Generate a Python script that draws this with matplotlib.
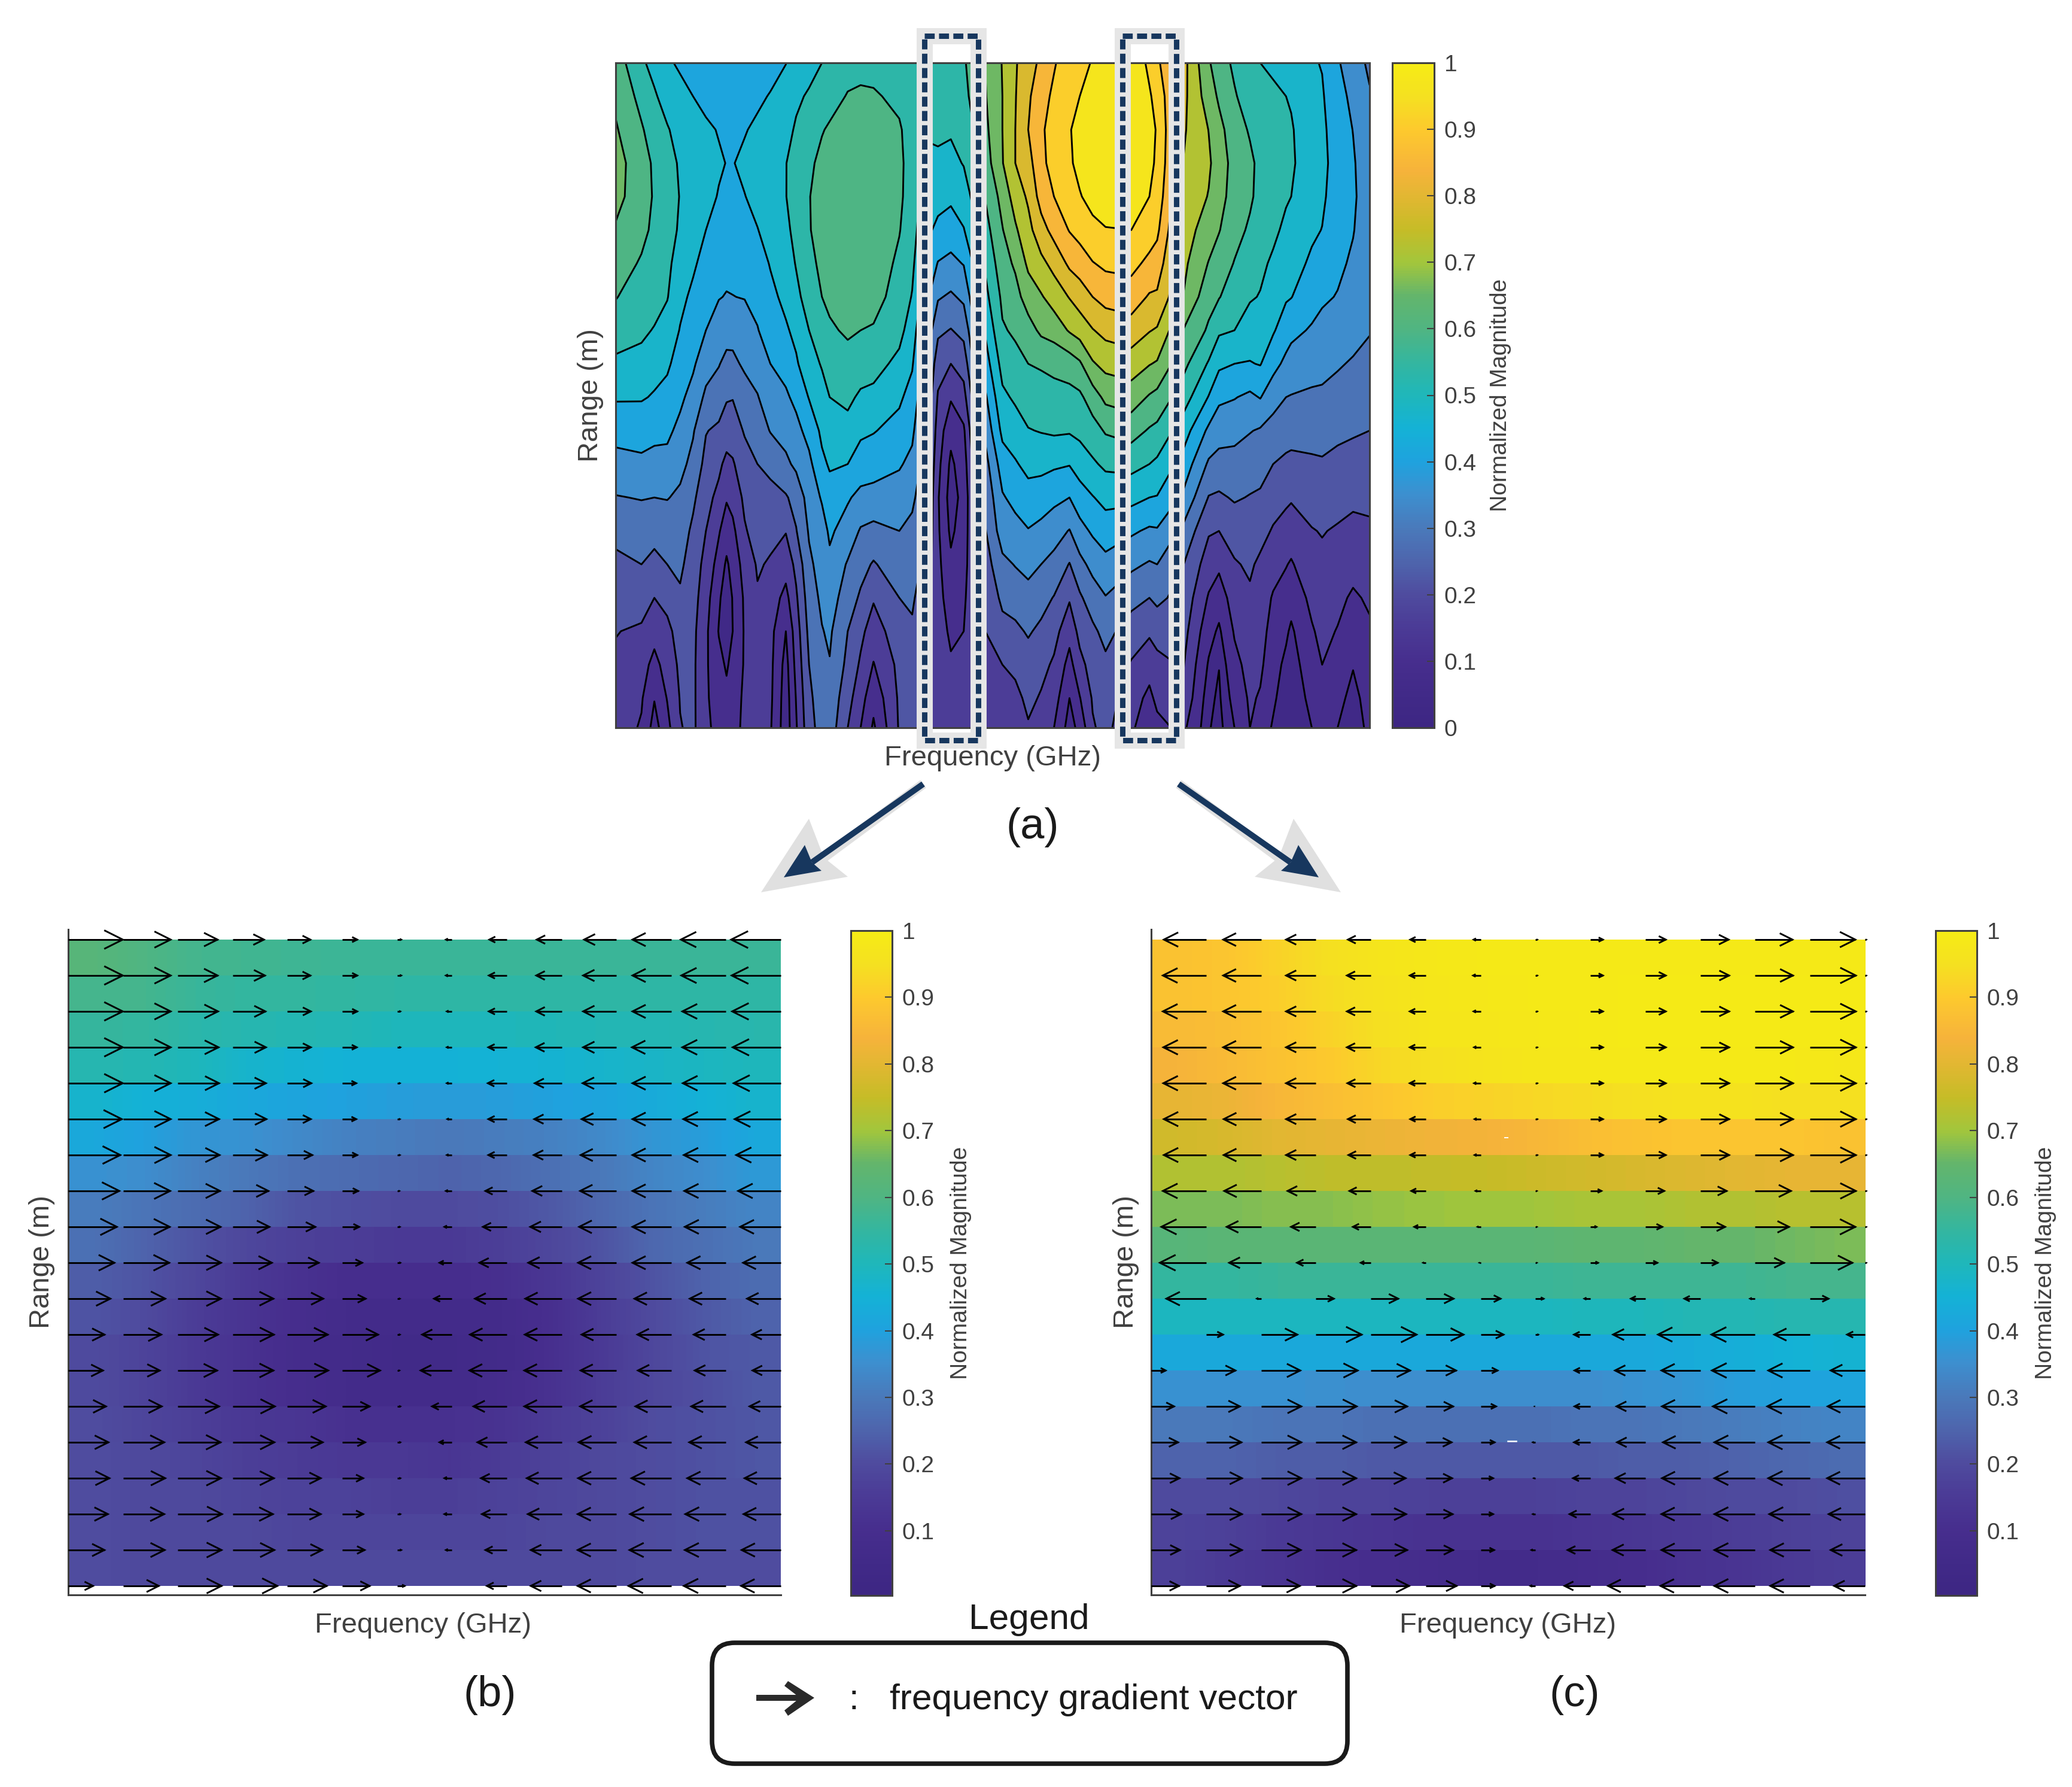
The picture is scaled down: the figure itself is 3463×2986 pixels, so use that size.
# -*- coding: utf-8 -*-
import numpy as np
import matplotlib
matplotlib.use('Agg')
import matplotlib.pyplot as plt
from matplotlib.collections import LineCollection
from matplotlib.colors import LinearSegmentedColormap, Normalize
from matplotlib.cm import ScalarMappable
from matplotlib.patches import FancyBboxPatch, Rectangle, Polygon

plt.rcParams['font.family'] = ['Liberation Sans', 'DejaVu Sans']

W, H = 3463, 2986

# ============================================================
# data: panel (a), magnitude in 1/16 steps, one list per frequency column
# ============================================================
freq_a = [35, 85, 110, 135, 160, 185, 210, 235, 250, 262, 285, 310, 335, 365, 385, 410, 435, 450,
          485, 510, 535, 585, 610, 635, 660, 685, 710, 735, 785, 810, 835, 860, 885, 915, 935, 960,
          985, 1035, 1070, 1085, 1135, 1185, 1205, 1235, 1265, 1285, 1310, 1335, 1345, 1385, 1405,
          1435, 1465, 1497]
range_a = [95, 165, 235, 305, 375, 445, 515, 585, 655, 725, 795, 865, 935, 1005, 1075, 1145,
           1215, 1285, 1355, 1425, 1487]
mag_a = [
    [9.5, 9.8, 10.1, 10.4, 10.3, 9.9, 9.45, 9.05, 8.5, 7.8, 7.1, 6.35, 5.65, 4.95, 4.3, 3.75, 3.4, 3.05, 2.8, 2.6, 2.5],
    [8.2, 8.7, 9.1, 9.4, 9.45, 9.25, 8.9, 8.5, 8.15, 7.75, 7.1, 6.3, 5.85, 5.05, 4.45, 4.0, 3.6, 2.8, 2.4, 2.1, 1.9],
    [7.6, 8.15, 8.55, 8.85, 8.9, 8.8, 8.6, 8.3, 7.95, 7.4, 6.9, 6.25, 5.7, 5.0, 4.35, 3.7, 3.0, 2.35, 1.7, 1.05, 0.6],
    [7.1, 7.5, 8.1, 8.3, 8.35, 8.3, 8.2, 8.05, 7.6, 7.15, 6.7, 6.2, 5.7, 5.05, 4.4, 4.0, 3.3, 2.75, 2.4, 2.05, 1.7],
    [6.9, 7.2, 7.55, 7.9, 7.97, 7.9, 7.6, 7.25, 6.95, 6.6, 6.2, 5.75, 5.3, 4.8, 4.5, 4.2, 3.85, 3.4, 3.2, 3.05, 2.95],
    [6.6, 7.0, 7.3, 7.55, 7.6, 7.5, 7.15, 6.8, 6.5, 6.15, 5.65, 5.1, 4.7, 4.2, 3.8, 3.5, 3.4, 3.25, 3.2, 3.2, 3.2],
    [6.4, 6.75, 7.15, 7.4, 7.25, 7.0, 6.65, 6.3, 6.0, 5.4, 4.8, 4.05, 3.7, 3.3, 3.0, 2.7, 2.4, 2.2, 2.15, 2.15, 2.2],
    [6.3, 6.55, 6.95, 7.1, 6.95, 6.7, 6.4, 6.05, 5.5, 5.05, 4.55, 3.8, 3.2, 2.75, 2.1, 1.6, 1.15, 0.95, 1.25, 1.5, 1.7],
    [6.3, 6.45, 6.8, 6.98, 6.85, 6.55, 6.25, 5.95, 5.35, 4.75, 4.1, 3.45, 2.75, 2.1, 1.45, 0.85, 0.5, 0.5, 0.9, 1.2, 1.4],
    [6.35, 6.5, 6.8, 6.97, 6.85, 6.55, 6.3, 5.98, 5.3, 4.8, 4.05, 3.45, 2.9, 2.35, 1.75, 1.35, 1.05, 1.0, 1.25, 1.6, 1.75],
    [6.5, 6.7, 6.95, 7.15, 6.98, 6.7, 6.5, 6.05, 5.4, 5.15, 4.6, 4.1, 3.55, 3.2, 2.9, 2.4, 2.15, 2.1, 2.1, 2.15, 2.15],
    [6.6, 6.85, 7.15, 7.35, 7.2, 6.98, 6.65, 6.3, 5.95, 5.4, 4.95, 4.45, 4.0, 3.7, 3.4, 3.1, 2.9, 2.65, 2.5, 2.4, 2.35],
    [6.7, 7.05, 7.3, 7.5, 7.45, 7.25, 7.05, 6.8, 6.5, 6.0, 5.5, 5.05, 4.25, 3.7, 3.25, 2.9, 2.5, 2.3, 2.25, 2.2, 2.1],
    [6.98, 7.4, 7.75, 7.98, 7.98, 7.85, 7.6, 7.2, 6.9, 6.35, 5.85, 5.35, 4.8, 3.9, 3.05, 2.4, 1.7, 1.0, 0.65, 0.5, 0.45],
    [7.45, 7.85, 8.1, 8.3, 8.35, 8.2, 8.05, 7.8, 7.2, 6.9, 6.25, 5.7, 5.2, 4.35, 3.95, 3.25, 2.85, 2.5, 2.3, 2.05, 1.9],
    [7.7, 8.1, 8.5, 8.85, 8.97, 8.95, 8.75, 8.35, 8.0, 7.5, 7.05, 6.35, 5.75, 5.4, 5.1, 4.8, 4.5, 4.25, 4.0, 3.8, 3.65],
    [8.0, 8.6, 8.95, 9.2, 9.3, 9.3, 9.2, 9.0, 8.5, 8.1, 7.55, 7.2, 6.8, 6.1, 5.6, 5.4, 5.2, 4.95, 4.7, 4.5, 4.4],
    [8.2, 8.7, 9.1, 9.45, 9.55, 9.5, 9.35, 9.15, 8.9, 8.45, 8.0, 7.6, 7.1, 6.65, 6.15, 5.8, 5.45, 5.15, 4.95, 4.7, 4.55],
    [8.7, 9.05, 9.4, 9.7, 9.95, 9.9, 9.7, 9.45, 9.1, 8.75, 8.2, 7.7, 7.0, 6.1, 5.6, 4.9, 4.5, 4.0, 3.75, 3.35, 3.0],
    [8.7, 9.15, 9.5, 9.75, 9.92, 9.9, 9.65, 9.35, 9.0, 8.45, 7.85, 7.2, 6.5, 5.75, 4.9, 4.35, 3.85, 3.25, 2.85, 2.4, 2.0],
    [8.7, 9.1, 9.45, 9.65, 9.8, 9.75, 9.6, 9.4, 8.9, 8.35, 7.75, 7.05, 6.5, 5.6, 4.75, 3.9, 3.1, 2.5, 1.95, 1.3, 0.85],
    [8.3, 8.8, 9.1, 9.2, 9.2, 9.05, 8.8, 8.55, 8.3, 7.75, 7.15, 6.7, 6.1, 5.55, 5.0, 4.6, 4.0, 3.6, 3.25, 3.15, 3.1],
    [8.25, 8.45, 8.6, 8.6, 8.5, 8.4, 8.2, 7.95, 7.5, 7.1, 6.65, 6.2, 5.75, 5.2, 4.75, 4.4, 4.1, 3.9, 3.6, 3.4, 3.3],
    [8.2, 8.2, 8.05, 7.9, 7.6, 7.3, 6.9, 6.4, 5.9, 5.5, 5.15, 4.85, 4.6, 4.35, 4.1, 3.8, 3.6, 3.5, 3.3, 3.1, 3.0],
    [8.35, 8.2, 8.1, 7.9, 7.35, 6.75, 5.95, 5.1, 4.2, 3.4, 2.9, 2.55, 2.3, 2.1, 2.15, 2.25, 2.35, 2.4, 2.5, 2.55, 2.6],
    [8.45, 8.25, 8.1, 7.75, 7.2, 6.5, 5.75, 4.85, 3.95, 3.0, 2.1, 1.3, 0.8, 0.55, 0.8, 1.2, 1.5, 1.85, 2.1, 2.2, 2.3],
    [8.9, 8.75, 8.4, 8.05, 7.55, 6.95, 6.05, 5.2, 4.3, 3.4, 2.65, 1.85, 1.55, 1.35, 1.5, 1.65, 1.85, 2.0, 2.35, 2.45, 2.5],
    [9.5, 9.4, 9.15, 8.8, 8.4, 7.95, 7.4, 6.95, 6.2, 5.6, 4.85, 4.25, 3.7, 3.4, 3.15, 2.95, 2.8, 2.65, 2.55, 2.5, 2.45],
    [11.05, 11.0, 11.0, 10.95, 10.35, 9.95, 9.6, 9.2, 8.9, 8.35, 7.8, 7.25, 6.5, 5.9, 5.5, 4.75, 4.2, 3.7, 3.0, 2.7, 2.45],
    [11.9, 11.95, 12.0, 12.0, 11.45, 10.85, 10.15, 9.65, 9.15, 8.7, 8.15, 7.55, 6.9, 6.3, 5.65, 5.05, 4.4, 3.8, 3.25, 2.7, 2.4],
    [12.6, 12.85, 13.0, 12.6, 12.15, 11.7, 11.2, 10.45, 9.6, 9.0, 8.5, 7.95, 7.3, 6.6, 5.95, 5.25, 4.7, 4.1, 3.6, 3.25, 2.9],
    [13.2, 13.6, 13.85, 13.8, 13.4, 12.6, 11.75, 10.9, 10.2, 9.1, 8.6, 8.05, 7.3, 6.45, 5.75, 5.0, 4.35, 3.8, 3.3, 2.9, 2.55],
    [13.9, 14.2, 14.4, 14.3, 14.0, 13.35, 12.3, 11.45, 10.4, 9.3, 8.6, 8.15, 7.15, 6.25, 5.4, 4.7, 3.95, 3.35, 2.85, 2.45, 2.0],
    [14.6, 14.8, 14.95, 14.9, 14.6, 14.05, 13.2, 12.05, 11.1, 9.45, 8.7, 8.1, 7.05, 6.0, 4.95, 3.95, 3.1, 2.35, 1.65, 1.0, 0.6],
    [14.55, 15.0, 15.25, 15.2, 14.95, 14.35, 13.5, 12.45, 11.45, 9.85, 8.8, 8.25, 7.45, 6.55, 5.65, 4.7, 3.85, 3.3, 2.7, 1.95, 1.3],
    [15.1, 15.45, 15.6, 15.55, 15.25, 14.8, 13.95, 13.0, 11.95, 10.9, 9.5, 8.6, 7.85, 6.95, 6.15, 5.3, 4.5, 3.8, 3.4, 3.1, 2.9],
    [15.6, 15.8, 15.9, 15.8, 15.5, 14.95, 14.2, 13.35, 12.3, 11.3, 10.25, 9.1, 8.2, 7.3, 6.5, 5.7, 4.95, 4.3, 3.8, 3.5, 3.3],
    [15.7, 15.85, 15.95, 15.8, 15.55, 15.0, 14.3, 13.5, 12.55, 11.5, 10.5, 9.4, 8.3, 7.3, 6.15, 5.2, 4.3, 3.55, 2.9, 2.45, 2.15],
    [14.8, 15.1, 15.2, 15.15, 15.0, 14.5, 13.75, 12.9, 12.05, 11.05, 9.9, 8.9, 8.0, 7.0, 5.85, 4.9, 4.0, 3.15, 2.4, 1.75, 1.4],
    [14.2, 14.7, 14.95, 14.9, 14.65, 14.2, 13.55, 12.85, 11.9, 10.9, 9.7, 8.75, 7.8, 6.95, 5.9, 5.0, 4.2, 3.45, 2.65, 2.25, 1.7],
    [12.4, 12.3, 12.15, 12.0, 11.75, 11.5, 11.25, 11.0, 10.0, 9.3, 8.5, 7.5, 6.65, 5.85, 4.8, 4.05, 3.7, 3.4, 3.1, 2.85, 2.25],
    [10.1, 10.5, 10.98, 11.15, 10.95, 10.5, 9.95, 9.35, 8.85, 7.9, 6.95, 5.8, 4.85, 3.95, 3.1, 2.5, 1.9, 1.35, 0.9, 0.55, 0.45],
    [9.5, 9.85, 10.3, 10.5, 10.35, 10.05, 9.55, 9.05, 8.15, 7.2, 6.2, 5.4, 4.65, 3.85, 3.0, 2.2, 1.45, 0.85, 0.42, 0.3, 0.2],
    [8.8, 9.1, 9.45, 9.65, 9.6, 9.35, 8.95, 8.5, 8.0, 7.0, 6.05, 5.3, 4.65, 4.1, 3.45, 2.9, 2.5, 2.1, 1.7, 1.3, 1.0],
    [8.1, 8.5, 8.9, 9.2, 9.15, 8.85, 8.45, 8.1, 7.5, 6.95, 5.8, 5.05, 4.45, 3.95, 3.55, 3.15, 2.85, 2.55, 2.35, 2.15, 2.0],
    [8.0, 8.3, 8.55, 8.75, 8.7, 8.45, 8.2, 7.95, 7.45, 7.05, 6.05, 4.9, 4.4, 3.85, 3.35, 2.8, 2.55, 2.4, 2.2, 1.9, 1.5],
    [7.8, 8.2, 8.4, 8.55, 8.45, 8.2, 7.85, 7.45, 7.1, 6.35, 5.35, 4.65, 4.0, 3.45, 2.9, 2.4, 1.9, 1.6, 1.35, 1.15, 0.9],
    [7.6, 8.0, 8.2, 8.3, 8.1, 7.8, 7.45, 7.1, 6.5, 5.75, 5.0, 4.4, 3.8, 3.2, 2.6, 2.05, 1.6, 1.15, 0.8, 0.55, 0.5],
    [7.55, 7.9, 8.1, 8.15, 8.0, 7.7, 7.35, 7.03, 6.25, 5.6, 4.95, 4.35, 3.75, 3.1, 2.5, 1.9, 1.35, 0.85, 0.6, 0.45, 0.42],
    [7.1, 7.2, 7.3, 7.4, 7.3, 7.15, 6.85, 6.4, 5.9, 5.35, 4.85, 4.35, 3.85, 3.4, 2.95, 2.65, 2.25, 1.9, 1.55, 1.25, 1.0],
    [6.95, 7.1, 7.2, 7.25, 7.15, 6.98, 6.6, 6.15, 5.7, 5.25, 4.85, 4.35, 3.9, 3.45, 3.05, 2.8, 2.5, 2.25, 2.0, 1.6, 1.3],
    [6.1, 6.3, 6.5, 6.6, 6.55, 6.4, 6.2, 5.95, 5.6, 5.1, 4.65, 4.2, 3.75, 3.35, 2.9, 2.55, 2.25, 1.95, 1.6, 1.25, 1.0],
    [5.5, 5.8, 5.98, 6.1, 6.15, 6.05, 5.85, 5.6, 5.35, 4.9, 4.55, 4.1, 3.65, 3.15, 2.8, 2.35, 1.85, 1.4, 1.05, 0.75, 0.6],
    [4.8, 5.1, 5.3, 5.4, 5.45, 5.4, 5.3, 5.15, 5.05, 4.75, 4.4, 4.0, 3.6, 3.2, 2.85, 2.5, 2.15, 1.85, 1.6, 1.35, 1.2],
]

# ============================================================
# data: panels (b) and (c), cell colours and frequency gradient
# ============================================================
mag_b = [
    [.62, .60, .58, .575, .57, .565, .56, .56, .56, .56, .56, .56, .56, .56],
    [.58, .58, .56, .55, .55, .545, .54, .54, .54, .54, .54, .54, .54, .54],
    [.555, .55, .53, .52, .515, .51, .50, .50, .50, .505, .51, .51, .52, .525],
    [.52, .515, .50, .47, .46, .45, .45, .45, .455, .46, .47, .48, .49, .50],
    [.47, .45, .44, .42, .41, .40, .39, .385, .39, .40, .41, .43, .45, .47],
    [.42, .40, .37, .36, .34, .32, .31, .30, .31, .32, .34, .37, .39, .42],
    [.36, .35, .32, .30, .28, .27, .26, .25, .26, .28, .30, .33, .35, .38],
    [.31, .29, .27, .25, .22, .21, .20, .20, .21, .23, .26, .29, .31, .33],
    [.28, .25, .22, .19, .17, .16, .15, .15, .165, .19, .22, .26, .28, .30],
    [.24, .22, .19, .15, .12, .10, .10, .10, .11, .14, .18, .22, .25, .27],
    [.22, .20, .16, .13, .10, .08, .07, .07, .08, .11, .16, .20, .23, .25],
    [.20, .18, .15, .12, .09, .07, .06, .06, .07, .11, .15, .19, .22, .23],
    [.20, .18, .15, .12, .10, .08, .07, .07, .09, .12, .16, .19, .21, .23],
    [.205, .185, .165, .145, .135, .115, .115, .115, .125, .155, .175, .205, .215, .225],
    [.205, .195, .185, .165, .155, .145, .145, .135, .155, .175, .195, .205, .215, .225],
    [.205, .195, .195, .185, .175, .175, .165, .165, .175, .185, .195, .205, .215, .215],
    [.205, .195, .195, .195, .185, .185, .185, .185, .185, .195, .195, .205, .215, .215],
    [.205, .195, .195, .195, .195, .195, .195, .195, .195, .195, .195, .205, .205, .205],
]
grad_b = [
    [110, 96, 80, 63, 46, 30, 8, -12, -35, -50, -65, -78, -91, -100],
    [110, 96, 80, 65, 46, 30, 8, -12, -36, -51, -67, -78, -90, -99],
    [110, 96, 81, 66, 47, 30, 6, -10, -36, -51, -67, -78, -88, -98],
    [110, 96, 82, 67, 47, 29, 6, -10, -37, -52, -67, -79, -88, -97],
    [110, 96, 83, 67, 48, 28, 5, -10, -38, -54, -68, -78, -87, -95],
    [108, 96, 83, 68, 47, 28, 5, -9, -37, -55, -70, -78, -86, -93],
    [105, 96, 84, 69, 50, 30, 5, -10, -37, -56, -72, -78, -85, -90],
    [103, 95, 85, 72, 52, 32, 4, -12, -43, -59, -73, -78, -84, -86],
    [98, 94, 86, 74, 56, 34, 5, -15, -48, -63, -75, -78, -83, -82],
    [93, 93, 87, 79, 63, 40, 6, -25, -55, -67, -77, -78, -78, -76],
    [85, 85, 87, 82, 72, 47, 5, -36, -64, -73, -77, -74, -73, -68],
    [73, 77, 81, 83, 81, 72, 5, -60, -74, -74, -70, -68, -65, -58],
    [70, 74, 79, 82, 82, 76, 4, -63, -75, -75, -72, -67, -63, -57],
    [76, 78, 83, 85, 77, 55, 6, -40, -67, -75, -73, -72, -70, -63],
    [81, 83, 86, 84, 71, 46, 6, -25, -59, -72, -76, -74, -74, -70],
    [83, 85, 87, 83, 67, 42, 6, -15, -52, -70, -77, -80, -78, -73],
    [80, 83, 89, 81, 67, 42, 6, -15, -50, -68, -78, -83, -82, -75],
    [73, 84, 88, 84, 70, 45, 8, -12, -43, -62, -78, -84, -83, -79],
    [50, 72, 88, 90, 79, 55, 15, 0, -40, -62, -78, -86, -85, -80],
]
mag_c = [
    [.88, .89, .92, .95, .97, .98, .985, .985, .985, .985, .985, .985, .985, .985],
    [.88, .89, .91, .94, .96, .975, .98, .985, .985, .99, .99, .99, .99, .99],
    [.86, .87, .89, .92, .95, .97, .975, .98, .985, .99, .99, .99, .99, .99],
    [.84, .86, .88, .90, .93, .95, .965, .975, .98, .985, .985, .985, .985, .98],
    [.81, .82, .85, .87, .89, .91, .92, .93, .94, .95, .96, .96, .95, .95],
    [.77, .78, .80, .81, .82, .83, .835, .85, .87, .88, .89, .89, .89, .88],
    [.72, .72, .73, .74, .74, .745, .75, .76, .77, .78, .79, .80, .81, .81],
    [.67, .67, .68, .68, .69, .695, .70, .70, .71, .71, .72, .72, .73, .73],
    [.62, .63, .63, .63, .63, .63, .63, .63, .64, .64, .65, .65, .66, .67],
    [.55, .55, .56, .56, .56, .56, .56, .56, .57, .57, .57, .57, .58, .58],
    [.49, .49, .49, .49, .49, .49, .49, .49, .50, .50, .51, .51, .52, .52],
    [.42, .42, .42, .42, .42, .42, .42, .42, .42, .42, .43, .44, .45, .46],
    [.36, .36, .36, .355, .35, .35, .35, .35, .35, .36, .37, .39, .40, .41],
    [.30, .30, .29, .29, .28, .28, .28, .28, .29, .29, .30, .31, .32, .33],
    [.25, .25, .24, .24, .23, .23, .23, .23, .23, .24, .24, .25, .26, .27],
    [.20, .20, .19, .18, .18, .17, .17, .17, .18, .18, .19, .20, .20, .21],
    [.18, .17, .15, .14, .13, .12, .12, .12, .13, .14, .15, .16, .17, .18],
    [.17, .15, .13, .11, .10, .09, .08, .08, .09, .10, .12, .13, .15, .16],
]
grad_c = [
    [0, -85, -76, -60, -46, -31, -14, 3, 25, 41, 57, 75, 91, 2],
    [0, -87, -76, -60, -48, -32, -15, 3, 25, 41, 58, 76, 92, 2],
    [0, -87, -76, -60, -48, -32, -14, 3, 25, 41, 58, 76, 92, 2],
    [0, -86, -76, -60, -48, -32, -13, 3, 25, 41, 58, 76, 92, 2],
    [0, -86, -76, -60, -47, -32, -13, 3, 25, 41, 58, 76, 92, 2],
    [0, -85, -75, -60, -46, -31, -12, 3, 25, 41, 58, 76, 92, 2],
    [0, -85, -75, -60, -45, -31, -12, 3, 25, 41, 58, 76, 92, 2],
    [0, -87, -74, -57, -43, -29, -10, 2, 22, 38, 53, 72, 92, 2],
    [0, -90, -69, -50, -36, -23, -6, 2, 12, 34, 50, 68, 91, 2],
    [0, -93, -64, -38, -20, -5, -2, 2, 15, 24, 35, 58, 85, 2],
    [0, -80, -8, 36, 55, 56, 40, 16, -12, -29, -32, -10, 37, 0],
    [0, 34, 73, 92, 92, 76, 46, 5, -33, -65, -85, -88, -72, -36],
    [29, 59, 79, 84, 79, 61, 34, 0, -32, -61, -78, -87, -84, -69],
    [46, 68, 81, 82, 73, 55, 31, -1, -32, -58, -77, -85, -86, -75],
    [54, 71, 81, 81, 71, 52, 28, -5, -33, -57, -75, -82, -84, -76],
    [57, 72, 81, 81, 70, 53, 25, -3, -35, -60, -77, -82, -84, -76],
    [60, 72, 81, 81, 71, 54, 25, -5, -42, -65, -78, -82, -82, -73],
    [58, 72, 80, 81, 73, 55, 27, -8, -46, -66, -78, -82, -80, -69],
    [56, 68, 78, 81, 77, 62, 28, -10, -52, -75, -80, -82, -80, -62],
]
cbar_ticks_a = [0, .1, .2, .3, .4, .5, .6, .7, .8, .9, 1]
cbar_labels_a = ['0', '0.1', '0.2', '0.3', '0.4', '0.5', '0.6', '0.7', '0.8', '0.9', '1']
cbar_ticks_bc = cbar_ticks_a[1:]
cbar_labels_bc = cbar_labels_a[1:]

# ============================================================
# colours (parula as it looks in the print)
# ============================================================
stops = [(0, '#3D2683'), (.05, '#412A88'), (.1, '#472E8E'), (.15, '#4B3B96'), (.2, '#4F4C9F'),
         (.25, '#4E65AD'), (.3, '#4A7ABB'), (.35, '#3D8FCF'), (.4, '#1FA2DE'), (.45, '#14B2D6'),
         (.5, '#1FB7BA'), (.55, '#34B69F'), (.6, '#50B582'), (.65, '#63B56C'), (.7, '#A2C63C'),
         (.75, '#C6BC27'), (.8, '#E2B732'), (.84, '#F6B33B'), (.9, '#FDC92E'), (.95, '#F5E021'),
         (1, '#F6EC15')]
parula = LinearSegmentedColormap.from_list('parula_print', stops, N=256)
GREY = '#404040'
NAVY = '#17375E'
HALO = '#E6E6E6'


def box(px0, py0, px1, py1):
    # pixel box (top-left origin) -> figure fraction
    return [px0 / W, 1 - py1 / H, (px1 - px0) / W, (py1 - py0) / H]


def add_colorbar(fig, rect, vmin, ticks, labels, label_x):
    cax = fig.add_axes(box(*rect))
    sm = ScalarMappable(norm=Normalize(vmin, 1), cmap=parula)
    cb = fig.colorbar(sm, cax=cax)
    cb.set_ticks(ticks, labels=labels)
    cb.outline.set_edgecolor(GREY)
    cb.outline.set_linewidth(2.2)
    cax.tick_params(axis='y', direction='in', length=8.5, width=1.5, color=GREY,
                    labelcolor=GREY, labelsize=28, pad=12)
    cax.set_ylabel('Normalized Magnitude', fontsize=28, color=GREY, va='center')
    cax.yaxis.set_label_coords((label_x + 3 - rect[0]) / (rect[2] - rect[0]), 0.5)
    return cb


def draw_panel(fig, rect, mag, grad, xlabel_xy, ylabel_x):
    ax = fig.add_axes(box(*rect))
    mag = np.array(mag)
    grad = np.array(grad, dtype=float) / 110.5  # px -> column steps
    norm = Normalize(0.003, 1)
    # one image per row: smooth along frequency, stepped along range
    for r in range(mag.shape[0]):
        ax.imshow(mag[r:r + 1], extent=[0, 13, r + 1, r], aspect='auto', cmap=parula, norm=norm,
                  interpolation='bilinear', zorder=1)
    segs = []
    for r in range(grad.shape[0]):
        for c in range(grad.shape[1]):
            u = grad[r, c]
            tip = c + u
            segs.append([(c, r), (tip, r)])
            segs.append([(tip - .34 * u, r - .26 * abs(u)), (tip, r), (tip - .34 * u, r + .26 * abs(u))])
    ax.add_collection(LineCollection(segs, colors='k', linewidths=2.1, zorder=3, clip_on=False,
                                     capstyle='butt', joinstyle='miter'))
    ax.set_xlim(0, 13)
    ax.set_ylim(18 + 15 / 60, -17 / 60)
    ax.set_xticks([])
    ax.set_yticks([])
    for s in ['top', 'right']:
        ax.spines[s].set_visible(False)
    for s in ['left', 'bottom']:
        ax.spines[s].set_color(GREY)
        ax.spines[s].set_linewidth(2.2)
    width = rect[2] - rect[0]
    height = rect[3] - rect[1]
    ax.set_xlabel('Frequency (GHz)', fontsize=34, color=GREY, va='center')
    ax.xaxis.set_label_coords((xlabel_xy[0] - rect[0]) / width, -(xlabel_xy[1] - rect[3]) / height)
    ax.set_ylabel('Range (m)', fontsize=34, color=GREY, va='center')
    ax.yaxis.set_label_coords((ylabel_x - rect[0]) / width, 0.5)
    return ax


fig = plt.figure(figsize=(W / 100, H / 100), dpi=100, facecolor='white')

# ============================================================
# (a) contour map
# ============================================================
rect_a = (1029, 105, 2289, 1216)
ax_a = fig.add_axes(box(*rect_a))
Z = np.array(mag_a).T / 16
levels = [-0.03, 0.4 / 16] + [k / 16 for k in range(1, 17)]
ax_a.contourf(freq_a, range_a, Z, levels=levels, cmap=parula, vmin=0, vmax=1)
ax_a.contour(freq_a, range_a, Z, levels=levels[1:-1], colors='k', linewidths=2.1)
ax_a.set_xlim(freq_a[0], freq_a[-1])
ax_a.set_ylim(range_a[-1], range_a[0])
ax_a.set_xticks([])
ax_a.set_yticks([])
for s in ax_a.spines.values():
    s.set_color(GREY)
    s.set_linewidth(2.2)
ax_a.set_xlabel('Frequency (GHz)', fontsize=34, color=GREY, va='center')
ax_a.xaxis.set_label_coords(0.5, -51 / 1111)
ax_a.set_ylabel('Range (m)', fontsize=34, color=GREY, va='center')
ax_a.yaxis.set_label_coords((987 - 1029) / 1260, 0.5)
add_colorbar(fig, (2327, 105, 2397, 1216), 0, cbar_ticks_a, cbar_labels_a, 2505)

# ============================================================
# (b) (c) gradient panels
# ============================================================
draw_panel(fig, (114, 1553, 1305, 2665), mag_b, grad_b, (707, 2716), 70)
add_colorbar(fig, (1422, 1555, 1491, 2666), 0.003, cbar_ticks_bc, cbar_labels_bc, 1603)
draw_panel(fig, (1924, 1553, 3117, 2665), mag_c, grad_c, (2520, 2716), 1882)
add_colorbar(fig, (3235, 1555, 3304, 2666), 0.003, cbar_ticks_bc, cbar_labels_bc, 3416)

# ============================================================
# annotation layer in image pixels
# ============================================================
ov = fig.add_axes([0, 0, 1, 1], zorder=10)
ov.set_xlim(0, W)
ov.set_ylim(H, 0)
ov.axis('off')
ov.patch.set_visible(False)

for x0, x1 in [(1544.5, 1635), (1875.5, 1966)]:
    ov.add_patch(Rectangle((x0, 59.5), x1 - x0, 1177.5, fill=False, ec=HALO, lw=19.4, joinstyle='miter'))
    ov.add_patch(Rectangle((x0, 59.5), x1 - x0, 1177.5, fill=False, ec=NAVY, lw=6.5,
                           linestyle=(0, (1.85, 0.8)), joinstyle='miter'))


def big_arrow(start, neck, tip, barb1, barb2, ghalo_tip, ghalo1, ghalo2, ghalo_neck):
    ov.plot([start[0], ghalo_neck[0]], [start[1], ghalo_neck[1]], color='#E0E0E0', lw=11.5,
            solid_capstyle='butt', zorder=1)
    ov.add_patch(Polygon([ghalo_tip, ghalo1, ghalo_neck, ghalo2], closed=True, fc='#E0E0E0', ec='none', zorder=1))
    ov.plot([start[0], neck[0]], [start[1], neck[1]], color=NAVY, lw=7.2, solid_capstyle='butt', zorder=2)
    ov.add_patch(Polygon([tip, barb1, neck, barb2], closed=True, fc=NAVY, ec='none', zorder=2))


big_arrow((1543, 1310), (1357, 1441), (1310, 1466), (1345, 1412), (1373, 1455),
          (1272, 1491), (1352, 1368), (1417, 1465), (1377, 1433))
big_arrow((1970, 1310), (2157, 1441), (2204, 1466), (2170, 1412), (2141, 1455),
          (2241, 1491), (2162, 1368), (2097, 1465), (2137, 1433))

DARK = '#1A1A1A'
ov.text(1726, 1382, '(a)', fontsize=52, color=DARK, ha='center', va='center')
ov.text(819, 2833, '(b)', fontsize=52, color=DARK, ha='center', va='center')
ov.text(2632, 2833, '(c)', fontsize=52, color=DARK, ha='center', va='center')

# legend
ov.text(1720, 2707, 'Legend', fontsize=43.5, color=DARK, ha='center', va='center')
ov.add_patch(FancyBboxPatch((1190, 2745), 1062, 202, boxstyle='round,pad=0,rounding_size=38',
                            fc='white', ec=DARK, lw=5.5))
ov.plot([1264, 1345], [2837, 2837], color='#2A2A2A', lw=7.2, solid_capstyle='butt')
ov.add_patch(Polygon([(1361, 2837), (1317, 2809), (1311, 2817), (1337, 2837), (1311, 2858), (1317, 2867)],
                     closed=True, fc='#2A2A2A', ec='none'))
ov.text(1427, 2841, ':', fontsize=43.5, color=DARK, ha='center', va='center')
ov.text(1487, 2841, 'frequency gradient vector', fontsize=43.5, color=DARK, ha='left', va='center')

# two stray white flecks in panel (c)
ov.plot([2515, 2520], [1901, 1901], color='white', lw=1.4)
ov.plot([2520, 2534], [2408, 2408], color='white', lw=1.8)

fig.savefig('out.png', dpi=100, facecolor='white')
